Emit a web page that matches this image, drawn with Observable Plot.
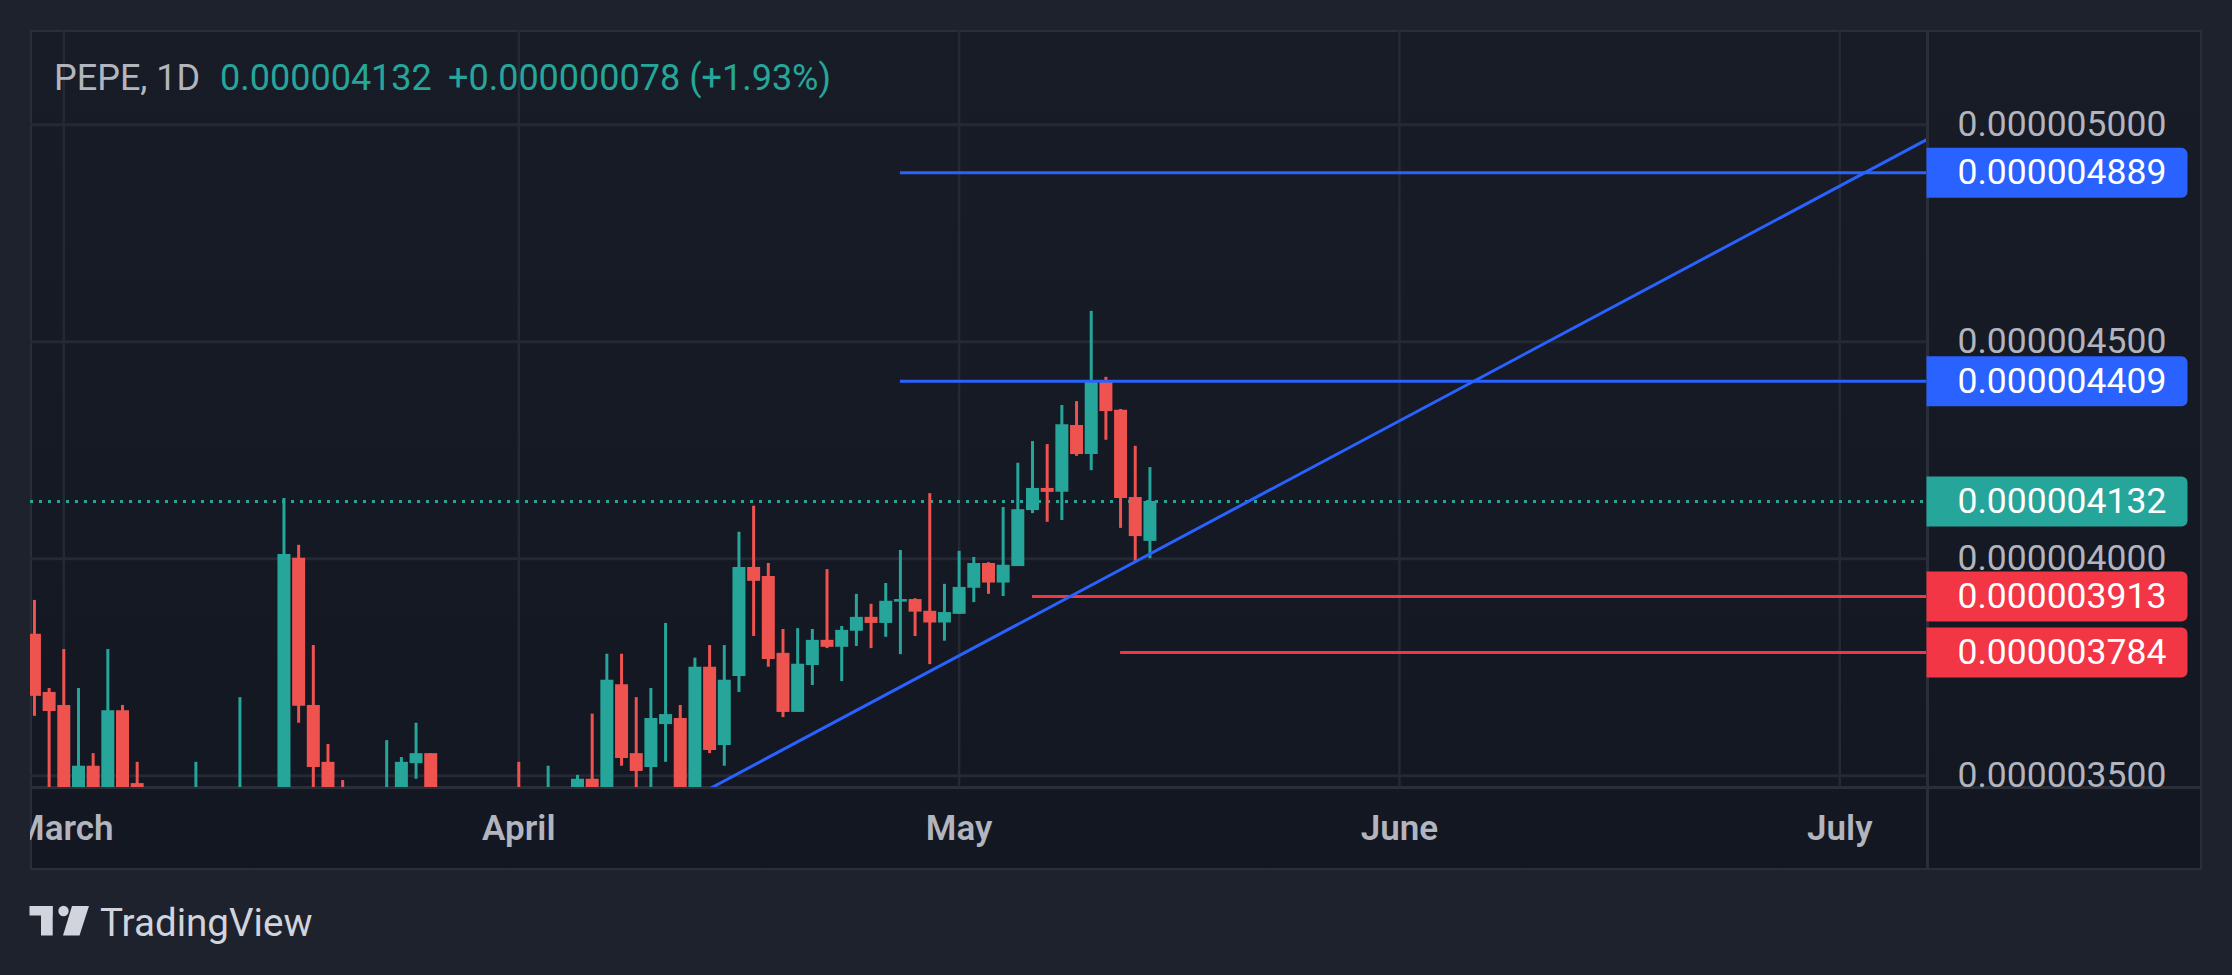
<!DOCTYPE html>
<html>
<head>
<meta charset="utf-8">
<script src="https://cdn.jsdelivr.net/npm/d3@7"></script>
<script src="https://cdn.jsdelivr.net/npm/@observablehq/plot@0.6"></script>
<style>
  html, body { margin: 0; padding: 0; background: #1e222d; }
  #page { position: relative; width: 2232px; height: 975px; overflow: hidden; background: #1e222d; font-family: Roboto, "Noto Sans", sans-serif; }
  #panel { position: absolute; left: 30px; top: 30px; width: 2172px; height: 840px; background: linear-gradient(#181c27, #131722); }
  #panel .border { position: absolute; left: 0; top: 0; width: 2172px; height: 840px; border: 2px solid #2a2e39; box-sizing: border-box; }
  #panel .sepV { position: absolute; left: 1896px; top: 0; width: 3px; height: 840px; background: #2a2e39; }
  #panel .sepH { position: absolute; left: 0; top: 756px; width: 2172px; height: 3px; background: #2a2e39; }
  #chart { position: absolute; left: 0; top: 0; }
  .hdr { position: absolute; top: 61px; font-size: 36px; line-height: 35px; white-space: pre; }
  #logo { position: absolute; left: 29px; top: 905px; }
  #brand { position: absolute; left: 100px; top: 904px; font-size: 38.6px; line-height: 38px; color: #d1d4dc; }
</style>
</head>
<body>
<div id="page">
  <div id="panel">
    <div class="border"></div>
    <div class="sepV"></div>
    <div class="sepH"></div>
    <div id="chart"></div>
  </div>
  <span class="hdr" style="left:54px;color:#b2b5be;">PEPE, 1D</span>
  <span class="hdr" style="left:220px;color:#26a69a;">0.000004132</span>
  <span class="hdr" style="left:448px;color:#26a69a;">+0.000000078 (+1.93%)</span>
  <svg id="logo" width="62" height="33" viewBox="29 905 62 33">
    <rect x="29.5" y="906" width="23" height="9.5" fill="#d1d4dc"/>
    <rect x="41" y="906" width="11.7" height="29.5" fill="#d1d4dc"/>
    <circle cx="63.5" cy="911" r="5.2" fill="#d1d4dc"/>
    <polygon points="72,906 89,906 79.5,935.5 63,935.5" fill="#d1d4dc"/>
  </svg>
  <div id="brand">TradingView</div>
</div>
<script>
// ---- Candles (prices in units of 1e-6) ----
const dates = ["2023-02-27","2023-02-28","2023-03-01","2023-03-02","2023-03-03","2023-03-04","2023-03-05","2023-03-06",
  "2023-03-10","2023-03-13","2023-03-16","2023-03-17","2023-03-18","2023-03-19","2023-03-20","2023-03-23","2023-03-24",
  "2023-03-25","2023-03-26","2023-04-01","2023-04-03","2023-04-05","2023-04-06","2023-04-07","2023-04-08","2023-04-09",
  "2023-04-10","2023-04-11","2023-04-12","2023-04-13","2023-04-14","2023-04-15","2023-04-16","2023-04-17","2023-04-18",
  "2023-04-19","2023-04-20","2023-04-21","2023-04-22","2023-04-23","2023-04-24","2023-04-25","2023-04-26","2023-04-27",
  "2023-04-28","2023-04-29","2023-04-30","2023-05-01","2023-05-02","2023-05-03","2023-05-04","2023-05-05","2023-05-06",
  "2023-05-07","2023-05-08","2023-05-09","2023-05-10","2023-05-11","2023-05-12","2023-05-13","2023-05-14"];
const opens  = [3.826,3.692,3.662,3.44,3.522,3.45,3.650,3.482,
  3.40,3.40,3.44,4.001,3.662,3.531,3.45,3.40,3.44,
  3.528,3.551,3.47,3.40,3.45,3.492,3.45,3.710,3.551,
  3.519,3.618,3.632,3.46,3.750,3.570,3.729,3.980,3.959,
  3.782,3.646,3.754,3.812,3.796,3.833,3.865,3.851,3.900,
  3.906,3.879,3.852,3.872,3.932,3.989,3.944,3.982,4.111,
  4.162,4.153,4.307,4.240,4.409,4.342,4.141,4.040];
const highs  = [3.904,3.701,3.791,3.701,3.551,3.791,3.662,3.531,
  3.531,3.680,4.139,4.031,3.800,3.572,3.489,3.581,3.542,
  3.621,3.551,3.531,3.522,3.501,3.642,3.780,3.780,3.680,
  3.701,3.851,3.662,3.771,3.800,3.800,4.061,4.121,3.989,
  3.837,3.839,3.837,3.975,3.844,3.918,3.895,3.943,4.019,
  3.908,4.150,3.941,4.017,4.003,3.991,4.118,4.220,4.270,
  4.263,4.353,4.362,4.570,4.418,4.344,4.259,4.210];
const lows   = [3.637,3.40,3.38,3.40,3.40,3.41,3.42,3.40,
  3.36,3.37,3.42,3.621,3.44,3.40,3.38,3.37,3.41,
  3.492,3.40,3.38,3.37,3.42,3.42,3.43,3.522,3.44,
  3.46,3.531,3.43,3.44,3.551,3.522,3.692,3.821,3.750,
  3.634,3.646,3.708,3.793,3.717,3.798,3.793,3.819,3.779,
  3.821,3.756,3.810,3.872,3.899,3.918,3.913,3.982,4.104,
  4.084,4.088,4.236,4.203,4.273,4.070,3.994,4.000];
const closes = [3.683,3.648,3.44,3.522,3.45,3.650,3.45,3.46,
  3.45,3.46,4.010,3.660,3.519,3.46,3.40,3.46,3.531,
  3.551,3.45,3.42,3.46,3.492,3.45,3.720,3.540,3.510,
  3.632,3.641,3.46,3.750,3.558,3.720,3.980,3.948,3.768,
  3.646,3.757,3.812,3.796,3.835,3.865,3.851,3.902,3.906,
  3.877,3.852,3.876,3.934,3.989,3.944,3.985,4.113,4.162,
  4.153,4.309,4.240,4.409,4.339,4.139,4.051,4.132];

// ---- Drawings and price labels ----
const levelValues = [4.889, 4.409, 3.913, 3.784];
const levelStarts = ["2023-04-27","2023-04-27","2023-05-06","2023-05-12"];
const levelColors = ["#2962ff","#2962ff","#f23645","#f23645"];
const lastPrice = 4.132;
const trendDates = ["2023-04-10","2023-07-09"];
const trendPrices = [3.398, 5.021];

// ---- Axes ----
const yTicks = [3.5, 4.0, 4.5, 5.0];
const monthTickDates = ["2023-03-01","2023-04-01","2023-05-01","2023-05-31","2023-06-30"];
const monthLabels = ["March","April","May","June","July"];
const xDomain = ["2023-02-26T17:33Z","2023-07-05T21:50Z"];
const yDomain = [3.473, 5.217];

const UP = "#26a69a", DOWN = "#ef5350";
const candles = dates.map((d, i) => ({date: new Date(d), open: opens[i], high: highs[i], low: lows[i], close: closes[i]}));
const colorOf = d => d.close >= d.open ? UP : DOWN;
const levels = levelValues.map((v, i) => ({v, start: new Date(levelStarts[i]), color: levelColors[i]}));
const labels = [
  {v: levelValues[0], color: levelColors[0]},
  {v: levelValues[1], color: levelColors[1]},
  {v: lastPrice, color: UP},
  {v: levelValues[2], color: levelColors[2]},
  {v: levelValues[3], color: levelColors[3]}
];
const trend = trendDates.map((d, i) => ({date: new Date(d), price: trendPrices[i]}));
const tickDates = monthTickDates.map(d => new Date(d));
const labelOf = new Map(tickDates.map((d, i) => [+d, monthLabels[i]]));
const xEnd = new Date(xDomain[1]);
const fmt = v => (v * 1e-6).toFixed(9);

// price-label box: square left side, rounded right corners
const labelBox = {
  draw(ctx) {
    const w = 261, h = 25, r = 6;
    ctx.moveTo(0, -h);
    ctx.lineTo(w - r, -h);
    ctx.arcTo(w, -h, w, -h + r, r);
    ctx.lineTo(w, h - r);
    ctx.arcTo(w, h, w - r, h, r);
    ctx.lineTo(0, h);
    ctx.closePath();
  }
};

const chart = Plot.plot({
  width: 2172,
  height: 840,
  marginLeft: 0,
  marginTop: 0,
  marginRight: 276,
  marginBottom: 83,
  style: {background: "transparent", overflow: "hidden", fontFamily: "Roboto, sans-serif", color: "#b2b5be"},
  x: {type: "utc", domain: xDomain.map(d => new Date(d))},
  y: {domain: yDomain},
  color: {type: "identity"},
  marks: [
    Plot.gridX(tickDates, {stroke: "#252935", strokeOpacity: 1, strokeWidth: 2.5}),
    Plot.gridY(yTicks, {stroke: "#252935", strokeOpacity: 1, strokeWidth: 3}),
    Plot.axisX(tickDates, {anchor: "bottom", tickSize: 0, tickPadding: 28, tickFormat: d => labelOf.get(+d),
      fontSize: 35, fontWeight: 600, fill: "#b2b5be", label: null}),
    Plot.axisY(yTicks, {anchor: "right", tickSize: 0, tickPadding: 31, tickFormat: fmt, textAnchor: "start",
      fontSize: 35.5, fill: "#b2b5be", label: null}),
    Plot.ruleY([lastPrice], {stroke: UP, strokeWidth: 3, strokeDasharray: "3 6"}),
    Plot.ruleX(candles, {x: "date", y1: "low", y2: "high", stroke: colorOf, strokeWidth: 3, clip: true}),
    Plot.ruleX(candles, {x: "date", y1: "open", y2: "close", stroke: colorOf, strokeWidth: 13, clip: true}),
    Plot.ruleY(levels, {y: "v", x1: "start", x2: () => xEnd, stroke: "color", strokeWidth: 3, clip: true}),
    Plot.line(trend, {x: "date", y: "price", stroke: "#2962ff", strokeWidth: 3, clip: true}),
    Plot.dot(labels, {y: "v", frameAnchor: "right", symbol: labelBox, r: 1, fill: "color"}),
    Plot.text(labels, {y: "v", frameAnchor: "right", dx: 31, textAnchor: "start", text: d => fmt(d.v),
      fill: "#ffffff", fontSize: 35.5})
  ]
});
document.getElementById("chart").appendChild(chart);
</script>
</body>
</html>
